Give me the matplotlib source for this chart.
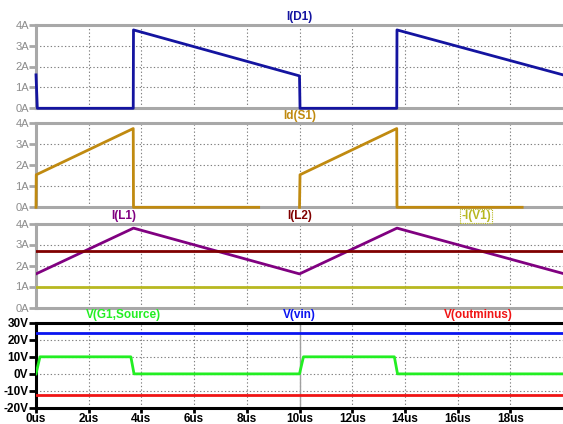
import matplotlib
matplotlib.use("Agg")
import matplotlib.pyplot as plt
import matplotlib.transforms as mtrans
import numpy as np

plt.rcParams["font.family"] = ["Liberation Sans", "DejaVu Sans"]

# ---- data (time in us) ----
t_d1 = [0.0, 0.05, 3.69, 3.70, 10.0, 10.02, 13.69, 13.70, 20.0]
i_d1 = [1.6, 0.0, 0.0, 3.75, 1.55, 0.0, 0.0, 3.75, 1.6]

t_s1 = [0.0, 0.01, 3.69, 3.70, 8.45, np.nan, 10.0, 10.02, 13.69, 13.70, 18.45]
i_s1 = [0.0, 1.55, 3.75, 0.0, 0.0, np.nan, 0.0, 1.55, 3.75, 0.0, 0.0]

t_l1 = [0.0, 3.70, 10.0, 13.70, 20.0]
i_l1 = [1.6, 3.78, 1.6, 3.78, 1.62]
i_l2 = 2.68
i_v1 = 1.0

t_g1 = [0.0, 0.15, 3.60, 3.72, 10.0, 10.15, 13.60, 13.72, 20.0]
v_g1 = [0.0, 10.0, 10.0, 0.0, 0.0, 10.0, 10.0, 0.0, 0.0]
v_vin = 24.2
v_outminus = -12.6

x_ticks = [0, 2, 4, 6, 8, 10, 12, 14, 16, 18]
x_labels = ["0us", "2us", "4us", "6us", "8us", "10us", "12us", "14us", "16us", "18us"]
a_ticks = [0, 1, 2, 3, 4]
a_labels = ["0A", "1A", "2A", "3A", "4A"]
v_ticks = [-20, -10, 0, 10, 20, 30]
v_labels = ["-20V", "-10V", "0V", "10V", "20V", "30V"]

W, H = 563, 424
fig = plt.figure(figsize=(W / 100, H / 100), dpi=100)
fig.patch.set_facecolor("white")

x0 = 36 / W
wid = 1 - x0
def rect(top, bot):
    return [x0, 1 - bot / H, wid, (bot - top) / H]

rects = [rect(24.7, 108.3), rect(123.3, 207.3), rect(223.5, 307.5), rect(322.7, 408.0)]
axes = [fig.add_axes(r) for r in rects]

GRAY = "#a8a8a8"
TXTGRAY = "#8c8c8c"
LW = 2.0

for k, ax in enumerate(axes):
    bottom = (k == 3)
    sc = "black" if bottom else GRAY
    ax.set_xlim(0, 20)
    for s in ["top", "bottom", "left"]:
        ax.spines[s].set_color(sc)
        ax.spines[s].set_linewidth(2.2)
    ax.spines["right"].set_visible(False)
    ax.set_xticks(x_ticks)
    ax.grid(True, color="#808080", linestyle=(0, (1.2, 2.0)), linewidth=0.8)
    ax.set_axisbelow(True)
    if bottom:
        ax.set_ylim(-20, 30)
        ax.set_yticks(v_ticks)
        ax.set_yticklabels(v_labels, fontsize=8.5, fontweight="bold", color="black")
        ax.set_xticklabels(x_labels, fontsize=8.5, fontweight="bold", color="black")
        ax.tick_params(axis="y", direction="out", length=5, width=2, color="black", pad=0.5)
        ax.tick_params(axis="x", direction="out", length=3.5, width=2, color="black", pad=0)
    else:
        ax.set_ylim(0, 4)
        ax.set_yticks(a_ticks)
        ax.set_yticklabels(a_labels, fontsize=8, color=TXTGRAY)
        ax.tick_params(axis="y", direction="out", length=5, width=2, color=GRAY, pad=0)
        ax.tick_params(axis="x", length=0, labelbottom=False)

ax1, ax2, ax3, ax4 = axes

c_d1 = "#1414a0"
c_s1 = "#c08a10"
c_l1 = "#800080"
c_l2 = "#800000"
c_v1 = "#b8b820"
c_g1 = "#22ee22"
c_vin = "#0a14f0"
c_out = "#f01414"

ax1.plot(t_d1, i_d1, color=c_d1, lw=LW, clip_on=False, zorder=3)
ax2.plot(t_s1, i_s1, color=c_s1, lw=LW, clip_on=False, zorder=3)
ax3.plot(t_l1, i_l1, color=c_l1, lw=LW, zorder=3)
ax3.axhline(i_l2, color=c_l2, lw=LW, zorder=3)
ax3.axhline(i_v1, color=c_v1, lw=LW, zorder=3)
ax4.axvline(10, color="#a0a0a0", lw=1.0, zorder=2)
ax4.plot(t_g1, v_g1, color=c_g1, lw=LW, zorder=3)
ax4.axhline(v_vin, color=c_vin, lw=LW, zorder=3)
ax4.axhline(v_outminus, color=c_out, lw=LW, zorder=3)

def label(ax, x, text, color, box=False):
    tr = mtrans.blended_transform_factory(ax.transData, ax.transAxes)
    kw = dict(transform=tr, ha="center", va="center", fontsize=8.5,
              fontweight="bold", color=color, clip_on=False)
    if box:
        kw["bbox"] = dict(boxstyle="square,pad=0.1", facecolor="white",
                          edgecolor=color, linestyle=(0, (1, 1)), linewidth=0.8)
    ax.text(x, 1.09, text, **kw)

label(ax1, 10.0, "I(D1)", c_d1)
label(ax2, 10.0, "Id(S1)", c_s1)
label(ax3, 3.33, "I(L1)", c_l1)
label(ax3, 10.0, "I(L2)", c_l2)
label(ax3, 16.7, "-I(V1)", c_v1, box=True)
label(ax4, 3.33, "V(G1,Source)", c_g1)
label(ax4, 10.0, "V(vin)", c_vin)
label(ax4, 16.8, "V(outminus)", c_out)

fig.savefig("out.png", dpi=100, facecolor="white")
